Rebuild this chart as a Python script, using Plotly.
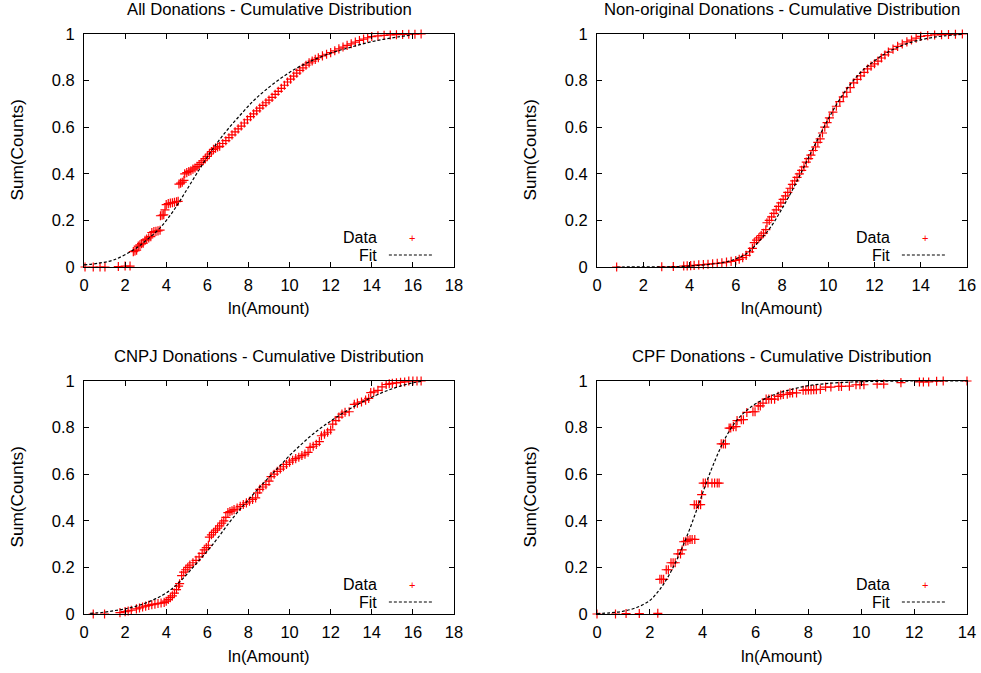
import plotly.graph_objects as go

# ---------------- data ----------------
titles = ["All Donations - Cumulative Distribution",
          "Non-original Donations - Cumulative Distribution",
          "CNPJ Donations - Cumulative Distribution",
          "CPF Donations - Cumulative Distribution"]
x_ranges = [18, 16, 18, 14]
x_label = "ln(Amount)"
y_label = "Sum(Counts)"
y_ticks = [0, 0.2, 0.4, 0.6, 0.8, 1]

# All donations
all_x = [0.05, 0.45, 0.78, 1.02, 1.67, 2.0, 2.24,
         2.4, 2.48, 2.56, 2.64, 2.72, 2.8, 2.88, 2.97, 3.05, 3.15, 3.25,
         3.3, 3.4, 3.5, 3.6, 3.7, 3.72, 3.8, 3.88, 3.94,
         4.0, 4.1, 4.2, 4.3, 4.4, 4.5, 4.58, 4.62, 4.7, 4.78, 4.86,
         4.9, 5.0, 5.1, 5.2, 5.3, 5.4, 5.5, 5.6, 5.7, 5.8, 5.9, 6.0, 6.1, 6.2, 6.3, 6.4, 6.5,
         6.6, 6.75, 6.9, 7.05, 7.2, 7.35, 7.5, 7.65, 7.8, 7.95, 8.1, 8.25, 8.4, 8.55, 8.7, 8.85,
         9.0, 9.15, 9.3, 9.45, 9.6, 9.75, 9.9, 10.05, 10.2, 10.35, 10.5, 10.65, 10.8, 10.95,
         11.1, 11.25, 11.4, 11.6, 11.8, 12.0, 12.2, 12.4, 12.6, 12.8, 13.0, 13.2, 13.4, 13.6,
         13.8, 14.0, 14.3, 14.6, 14.9, 15.2, 15.5, 15.8, 16.1, 16.4]
all_y = [0, 0, 0, 0, 0.002, 0.004, 0.004,
         0.066, 0.069, 0.072, 0.09, 0.095, 0.1, 0.102, 0.115, 0.12, 0.125, 0.13,
         0.148, 0.152, 0.153, 0.155, 0.158, 0.22, 0.222, 0.224, 0.245,
         0.268, 0.272, 0.274, 0.276, 0.278, 0.28, 0.282, 0.356, 0.36, 0.364, 0.372,
         0.40, 0.405, 0.41, 0.413, 0.42, 0.425, 0.432, 0.44, 0.448, 0.456, 0.465, 0.475, 0.485, 0.495, 0.505, 0.51, 0.515,
         0.518, 0.53, 0.542, 0.555, 0.567, 0.58, 0.593, 0.605, 0.618, 0.632, 0.645, 0.657, 0.67, 0.682, 0.694, 0.705,
         0.716, 0.728, 0.741, 0.754, 0.767, 0.78, 0.794, 0.806, 0.819, 0.832, 0.844, 0.855, 0.866, 0.876,
         0.884, 0.891, 0.898, 0.906, 0.913, 0.92, 0.928, 0.936, 0.944, 0.951, 0.958, 0.965, 0.972, 0.978,
         0.984, 0.989, 0.992, 0.994, 0.996, 0.997, 0.998, 0.999, 0.999, 1.0]
all_fit_x = [0, 0.7, 1.43, 2.4, 3.05, 3.7, 4.34, 4.99, 5.64, 6.29, 6.94, 7.58, 8.23, 8.8,
             9.61, 10.4, 11.2, 12.0, 12.85, 13.66, 14.5, 15.3, 16.0]
all_fit_y = [0.009, 0.016, 0.03, 0.073, 0.116, 0.168, 0.24, 0.33, 0.423, 0.51, 0.585, 0.65, 0.712, 0.757,
             0.812, 0.856, 0.89, 0.918, 0.94, 0.96, 0.976, 0.988, 0.997]

# Non-original donations
non_x = [0.85, 2.8, 3.3, 3.75, 3.9, 4.05, 4.2, 4.4, 4.6, 4.8, 5.0, 5.2, 5.4, 5.6, 5.8, 6.0,
         6.15, 6.3, 6.45, 6.6, 6.72, 6.8, 6.9, 7.0, 7.1, 7.2, 7.3, 7.35, 7.45, 7.55, 7.65,
         7.75, 7.85, 7.95, 8.05, 8.15, 8.25, 8.35, 8.45, 8.55, 8.65, 8.75, 8.85, 8.95, 9.05,
         9.15, 9.25, 9.35, 9.45, 9.55, 9.65, 9.75, 9.85, 9.95, 10.05, 10.2, 10.35, 10.5,
         10.65, 10.8, 10.95, 11.1, 11.25, 11.4, 11.55, 11.7, 11.85, 12.0, 12.15, 12.3, 12.45,
         12.6, 12.8, 13.0, 13.2, 13.4, 13.6, 13.8, 14.0, 14.3, 14.6, 14.9, 15.2, 15.5, 15.8]
non_y = [0, 0.001, 0.002, 0.004, 0.005, 0.006, 0.007, 0.009, 0.01, 0.012, 0.014, 0.016, 0.018, 0.021, 0.024, 0.028,
         0.033, 0.04, 0.05, 0.065, 0.08, 0.105, 0.115, 0.125, 0.135, 0.145, 0.16, 0.19, 0.2, 0.215, 0.23,
         0.245, 0.26, 0.275, 0.29, 0.305, 0.32, 0.338, 0.355, 0.37, 0.385, 0.4, 0.415, 0.43, 0.45,
         0.465, 0.48, 0.5, 0.515, 0.535, 0.55, 0.575, 0.6, 0.62, 0.64, 0.665, 0.69, 0.71,
         0.73, 0.75, 0.77, 0.79, 0.805, 0.82, 0.835, 0.85, 0.862, 0.872, 0.884, 0.897, 0.91,
         0.922, 0.935, 0.947, 0.957, 0.966, 0.974, 0.982, 0.99, 0.993, 0.996, 0.997, 0.998, 0.999, 1.0]
non_fit_x = [0.85, 2, 3, 4, 5, 5.5, 6, 6.5, 7, 7.5, 8, 8.5, 9, 9.5, 10, 10.5, 11, 11.5,
             12, 12.5, 13, 13.5, 14, 14.5, 15, 15.8]
non_fit_y = [0.0, 0.0005, 0.001, 0.004, 0.013, 0.02, 0.035, 0.06, 0.11, 0.17, 0.25, 0.34, 0.44, 0.54,
             0.635, 0.72, 0.79, 0.845, 0.885, 0.918, 0.943, 0.962, 0.975, 0.985, 0.992, 0.998]

# CNPJ donations
cnpj_x = [0.45, 1.0, 1.75, 2.0, 2.15, 2.3, 2.55, 2.7, 2.85, 3.0, 3.15, 3.3, 3.45, 3.6, 3.75, 3.9,
          4.0, 4.1, 4.2, 4.3, 4.4, 4.5, 4.6, 4.65, 4.75, 4.85, 4.95, 5.05, 5.15, 5.3, 5.45,
          5.6, 5.75, 5.85, 5.95, 6.05, 6.1, 6.2, 6.3, 6.4, 6.5, 6.6, 6.7, 6.8, 6.9, 7.0,
          7.1, 7.2, 7.3, 7.45, 7.6, 7.75, 7.9, 8.05, 8.2, 8.35, 8.45, 8.55, 8.7, 8.85, 9.0,
          9.1, 9.25, 9.4, 9.55, 9.7, 9.85, 10.0, 10.15, 10.3, 10.45, 10.6, 10.75, 10.9, 11.0,
          11.15, 11.3, 11.45, 11.55, 11.7, 11.85, 12.0, 12.1, 12.25, 12.4, 12.55, 12.7, 12.9,
          13.15, 13.3, 13.5, 13.7, 13.85, 13.95, 14.1, 14.3, 14.5, 14.7, 14.85, 15.0, 15.2,
          15.4, 15.6, 15.8, 16.0, 16.2, 16.4]
cnpj_y = [0, 0, 0.006, 0.01, 0.013, 0.016, 0.022, 0.026, 0.03, 0.034, 0.037, 0.04, 0.042, 0.045, 0.047, 0.05,
          0.055, 0.062, 0.07, 0.078, 0.09, 0.105, 0.12, 0.13, 0.165, 0.18, 0.19, 0.2, 0.21, 0.22, 0.23,
          0.245, 0.26, 0.275, 0.285, 0.295, 0.33, 0.34, 0.35, 0.36, 0.368, 0.378, 0.39, 0.4, 0.415, 0.435,
          0.44, 0.443, 0.448, 0.455, 0.462, 0.47, 0.477, 0.484, 0.492, 0.498, 0.52, 0.535, 0.545, 0.555, 0.57,
          0.59, 0.6, 0.612, 0.622, 0.632, 0.642, 0.652, 0.66, 0.667, 0.673, 0.68, 0.686, 0.694, 0.715,
          0.72, 0.728, 0.74, 0.765, 0.772, 0.78, 0.79, 0.815, 0.83, 0.845, 0.858, 0.866, 0.868,
          0.9, 0.905, 0.91, 0.918, 0.925, 0.95, 0.953, 0.96, 0.975, 0.985, 0.988, 0.99, 0.992,
          0.994, 0.996, 1.0, 1.0, 1.0, 1.0]
cnpj_fit_x = [0.3, 1.0, 1.5, 2.0, 2.5, 3.0, 3.5, 4.0, 4.5, 5.0, 5.5, 6.0, 6.5, 7.0, 7.5, 8.0, 8.5,
              9.0, 9.5, 10.0, 10.5, 11.0, 11.5, 12.0, 12.5, 13.0, 13.5, 14.0, 14.5, 15.0, 15.5, 16.0, 16.4]
cnpj_fit_y = [0.003, 0.008, 0.015, 0.022, 0.033, 0.047, 0.066, 0.09, 0.125, 0.17, 0.22, 0.27, 0.325, 0.385,
              0.44, 0.49, 0.54, 0.587, 0.633, 0.68, 0.722, 0.762, 0.797, 0.828, 0.857, 0.884, 0.908, 0.93,
              0.95, 0.967, 0.981, 0.992, 0.998]

# CPF donations
cpf_x = [0.0, 0.7, 1.1, 1.6, 2.3, 2.38, 2.45, 2.52, 2.62, 2.7, 2.8, 2.88, 2.96, 3.06, 3.16, 3.22,
         3.28, 3.36, 3.44, 3.52, 3.6, 3.7, 3.68, 3.76, 3.84, 3.92, 3.96,
         4.02, 4.1, 4.2, 4.35, 4.45, 4.55, 4.62, 4.7, 4.78, 4.86, 5.0, 5.06, 5.16, 5.26,
         5.3, 5.46, 5.54, 5.67, 5.9, 5.98, 6.1, 6.18, 6.28, 6.4, 6.5, 6.6, 6.72, 6.85,
         6.95, 7.05, 7.2, 7.3, 7.4, 7.55, 7.8, 7.9, 8.0, 8.1, 8.2, 8.3, 8.45, 8.65, 8.85,
         9.15, 9.25, 9.55, 9.8, 9.95, 10.1, 10.6, 10.85, 11.5, 12.2, 12.35, 12.55, 12.85, 13.1, 14.0]
cpf_y = [0, 0, 0.002, 0.002, 0.003, 0.149, 0.149, 0.149, 0.19, 0.19, 0.22, 0.22, 0.22, 0.258, 0.258, 0.275,
         0.31, 0.312, 0.315, 0.32, 0.32, 0.32, 0.469, 0.469, 0.469, 0.469, 0.512,
         0.562, 0.562, 0.562, 0.562, 0.562, 0.562, 0.562, 0.73, 0.73, 0.73, 0.798, 0.798, 0.804, 0.804,
         0.83, 0.834, 0.834, 0.865, 0.868, 0.868, 0.893, 0.893, 0.905, 0.922, 0.922, 0.922, 0.922, 0.934,
         0.94, 0.942, 0.943, 0.949, 0.949, 0.949, 0.96, 0.961, 0.962, 0.962, 0.963, 0.963, 0.964, 0.974, 0.974,
         0.977, 0.977, 0.978, 0.984, 0.984, 0.984, 0.987, 0.987, 0.993, 0.996, 0.996, 0.996, 0.999, 1.0, 1.0]
cpf_fit_x = [0, 0.5, 1.0, 1.5, 2.0, 2.3, 2.5, 2.75, 3.0, 3.25, 3.5, 3.75, 4.0, 4.25, 4.5, 4.75, 5.0,
             5.25, 5.5, 5.75, 6.0, 6.5, 7.0, 7.5, 8.0, 8.5, 9.0, 10.0, 11.0, 12.0, 13.0, 14.0]
cpf_fit_y = [0.002, 0.005, 0.012, 0.028, 0.058, 0.095, 0.125, 0.172, 0.228, 0.292, 0.362, 0.44, 0.52, 0.598,
             0.668, 0.732, 0.784, 0.826, 0.857, 0.882, 0.902, 0.932, 0.953, 0.968, 0.98, 0.987, 0.992,
             0.997, 0.999, 1.0, 1.0, 1.0]

series = [(all_x, all_y, all_fit_x, all_fit_y),
          (non_x, non_y, non_fit_x, non_fit_y),
          (cnpj_x, cnpj_y, cnpj_fit_x, cnpj_fit_y),
          (cpf_x, cpf_y, cpf_fit_x, cpf_fit_y)]

# ---------------- layout geometry ----------------
W, H = 981, 673
panels_px = [(84, 454, 34, 267), (597, 967, 34, 267),
             (84, 454, 381, 614), (597, 967, 381, 614)]

FONT = "Liberation Sans, Arial, Helvetica, sans-serif"
RED = "#ff0000"
TXT = 16.7

fig = go.Figure()
layout = dict(width=W, height=H, margin=dict(l=0, r=0, t=0, b=0, autoexpand=False),
              paper_bgcolor="white", plot_bgcolor="white", showlegend=False,
              font=dict(family=FONT, size=16, color="black"))
annotations = []
shapes = []

for i, ((x, y, fx, fy), (l, r, t, b)) in enumerate(zip(series, panels_px)):
    n = "" if i == 0 else str(i + 1)
    xa, ya = "x" + n, "y" + n
    fig.add_trace(go.Scatter(x=x, y=y, mode="markers", xaxis=xa, yaxis=ya, name="Data",
                             cliponaxis=False,
                             marker=dict(symbol="cross-thin", size=6.5, color=RED,
                                         line=dict(color=RED, width=1.2))))
    fig.add_trace(go.Scatter(x=fx, y=fy, mode="lines", xaxis=xa, yaxis=ya, name="Fit",
                             line=dict(color="black", width=1.2, dash="3px,2px", shape="spline")))
    common = dict(showgrid=False, zeroline=False, showline=True, linecolor="black", linewidth=1,
                  mirror="allticks", ticks="inside", ticklen=5, tickcolor="black", tickwidth=1,
                  automargin=False,
                  tickfont=dict(family=FONT, size=16.5, color="black"), fixedrange=True)
    layout["xaxis" + n] = dict(domain=[l / W, r / W], range=[0, x_ranges[i]], dtick=2, tick0=0,
                               anchor=ya, ticklabelstandoff=3, **common)
    layout["yaxis" + n] = dict(domain=[1 - b / H, 1 - t / H], range=[0, 1], tickvals=y_ticks,
                               anchor=xa, ticklabelstandoff=5, **common)
    cx = (l + r) / 2 / W
    annotations.append(dict(text=titles[i], x=cx, y=1 - (t - 24.5) / H, xref="paper", yref="paper",
                            showarrow=False, xanchor="center", yanchor="middle",
                            font=dict(size=TXT, family=FONT)))
    annotations.append(dict(text=x_label, x=cx, y=1 - (b + 42) / H, xref="paper", yref="paper",
                            showarrow=False, xanchor="center", yanchor="middle",
                            font=dict(size=TXT, family=FONT)))
    annotations.append(dict(text=y_label, x=(l - 68) / W, y=1 - (t + b) / 2 / H, xref="paper",
                            yref="paper", showarrow=False, textangle=-90, xanchor="center",
                            yanchor="middle", font=dict(size=17.2, family=FONT)))
    # in-plot key (gnuplot style: text then sample)
    xd, yd = xa + " domain", ya + " domain"
    annotations.append(dict(text="Data", x=0.797, y=0.1245, xref=xd, yref=yd, showarrow=False,
                            xanchor="right", yanchor="middle", font=dict(size=16, family=FONT)))
    annotations.append(dict(text="Fit", x=0.797, y=0.0515, xref=xd, yref=yd, showarrow=False,
                            xanchor="right", yanchor="middle", font=dict(size=16, family=FONT)))
    annotations.append(dict(text="+", x=0.886, y=0.1245, xref=xd, yref=yd, showarrow=False,
                            xanchor="center", yanchor="middle",
                            font=dict(size=11, family=FONT, color=RED)))
    shapes.append(dict(type="line", xref=xd, yref=yd, x0=0.824, x1=0.943, y0=0.0515, y1=0.0515,
                       line=dict(color="black", width=1.2, dash="3px,2px")))

layout["annotations"] = annotations
layout["shapes"] = shapes
fig.update_layout(**layout)
fig.write_html("out.html", config={"displayModeBar": False},
               post_script="document.body.style.margin='0';document.body.style.overflow='hidden';")
